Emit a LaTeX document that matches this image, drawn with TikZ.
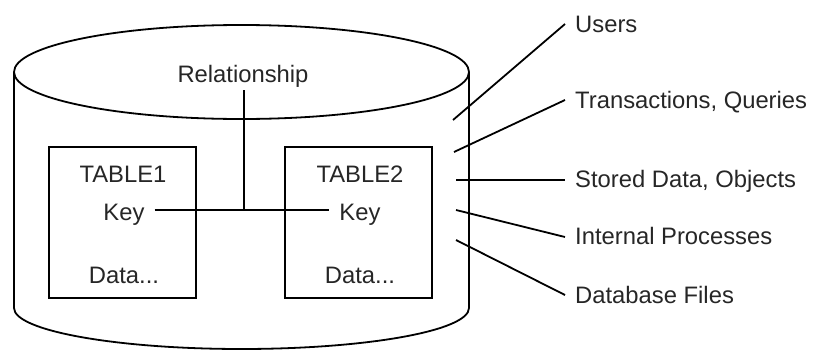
\documentclass[tikz,border=0pt]{standalone}
\usepackage{fontspec}
\setmainfont{Liberation Sans}
\begin{document}
\begin{tikzpicture}[x=1pt,y=-1pt,
  ln/.style={line width=1.8pt, black},
  tbox/.style={draw, line width=1.8pt, minimum width=147pt, minimum height=151pt, inner sep=0pt},
  txt/.style={font=\fontsize{23.8}{28}\selectfont, text=black!85, inner sep=0pt},
  lbl/.style={txt, anchor=base west}]
\useasboundingbox (0,0) rectangle (814,351);
% cylinder
\draw[ln] (241.5,72) ellipse [x radius=227.5pt, y radius=47pt];
\draw[ln] (14,72) -- (14,308) arc[start angle=180, end angle=360, x radius=227.5pt, y radius=41pt] -- (469,72);
% tables
\node[tbox] (t1) at (122.5,222.5) {};
\node[tbox] (t2) at (358.5,222.5) {};
\node[txt, anchor=base] (n1) at (123,182) {TABLE1};
\node[txt, anchor=base, inner xsep=10pt] (k1) at (124,220) {Key};
\node[txt, anchor=base] (d1) at (124,283) {Data...};
\node[txt, anchor=base] (n2) at (360,182) {TABLE2};
\node[txt, anchor=base, inner xsep=10pt] (k2) at (360,220) {Key};
\node[txt, anchor=base] (d2) at (360,283) {Data...};
% relationship
\node[txt, anchor=base, inner ysep=0pt] (rel) at (243,82) {Relationship};
\coordinate (j) at (244,210);
\draw[ln] (k1.east |- j) -- (k2.west |- j);
\draw[ln] ([yshift=-3pt]rel.south -| j) -- (j);
% right labels
\node[lbl] (u) at (575,32) {Users};
\node[lbl] (tq) at (575,108) {Transactions, Queries};
\node[lbl] (sd) at (575,187) {Stored Data, Objects};
\node[lbl] (ip) at (575,244) {Internal Processes};
\node[lbl] (df) at (575,303) {Database Files};
\coordinate (c1) at (453,120);
\coordinate (c2) at (454,152);
\coordinate (c3) at (456,180);
\coordinate (c4) at (456,210);
\coordinate (c5) at (456,240);
\draw[ln] (c1) -- ([shift={(-10pt,8pt)}]u.base west);
\draw[ln] (c2) -- ([shift={(-10pt,8pt)}]tq.base west);
\draw[ln] (c3) -- ([shift={(-10pt,7pt)}]sd.base west);
\draw[ln] (c4) -- ([shift={(-10pt,7pt)}]ip.base west);
\draw[ln] (c5) -- ([shift={(-10pt,8pt)}]df.base west);
\end{tikzpicture}
\end{document}
